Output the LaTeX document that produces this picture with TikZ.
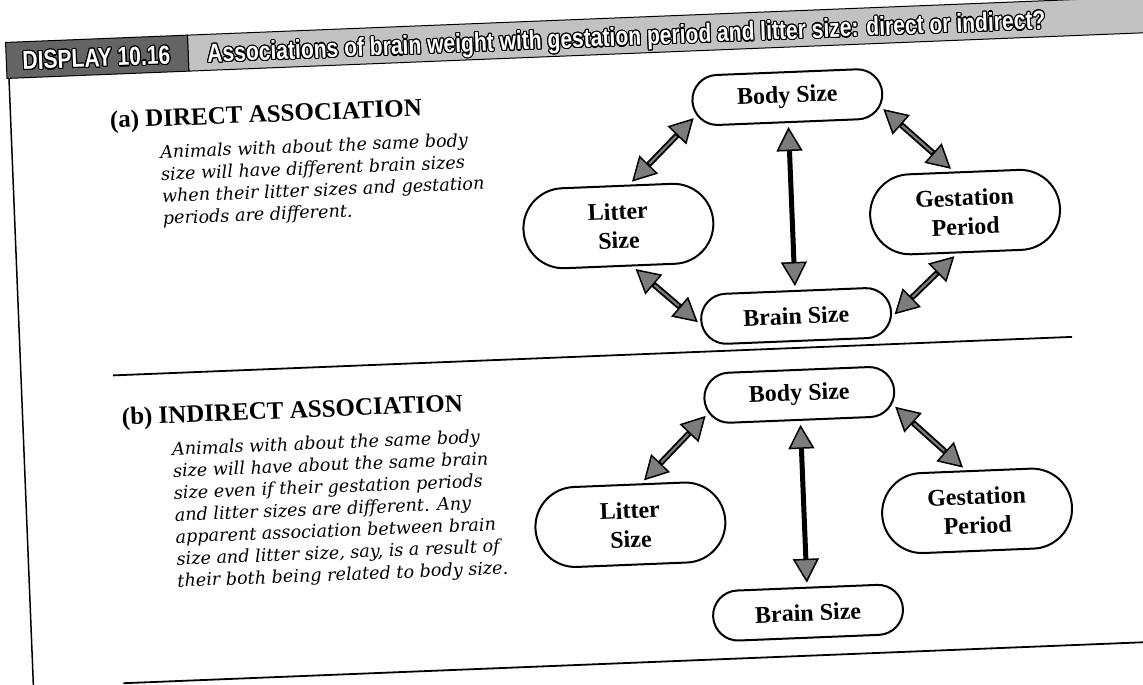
\documentclass[tikz,border=0pt]{standalone}
\usepackage{fontspec}
\setmainfont{Liberation Serif}
\newfontfamily\itfont{DejaVu Serif}
\newfontfamily\hdfont[FakeStretch=0.81]{Liberation Sans}
\usepackage{contour}
\contourlength{1.1pt}
\usetikzlibrary{shapes.misc,arrows.meta}
\definecolor{darkband}{HTML}{646464}
\definecolor{lightband}{HTML}{C2C2C2}
\definecolor{tipgray}{HTML}{7C7C7C}
\tikzset{linktip/.tip={Triangle[length=24pt,width=26pt,fill=tipgray,line width=1.5pt]}}
\begin{document}
\begin{tikzpicture}[x=1pt,y=-1pt,
  sbox/.style={draw, line width=2pt, rounded rectangle, minimum width=190pt, minimum height=50pt, inner sep=0pt, align=center, font=\fontsize{24}{29}\selectfont\bfseries},
  tbox/.style={sbox, minimum height=80pt},
  link/.style={line width=6pt, draw=black, shorten <=4pt, shorten >=4pt, linktip-linktip},
  vlink/.style={link, line width=5pt},
  core/.style={line width=2.2pt, draw=tipgray, shorten <=29pt, shorten >=29pt},
  head/.style={anchor=base west, inner sep=0pt, font=\fontsize{25}{30}\selectfont\bfseries},
  para/.style={anchor=north west, inner sep=0pt, align=left, font=\itfont\itshape\fontsize{17.6}{22}\selectfont},
  rulel/.style={line width=1.8pt},
  bandtext/.style={anchor=base west, inner sep=0pt, text=white, font=\hdfont\bfseries\fontsize{26}{30}\selectfont}
]
\fill[white] (0,0) rectangle (1143,685);
\clip (0,0) rectangle (1143,685);
\begin{scope}[rotate around={2.3:(571,342)}, transform shape]
  % header band
  \path[fill=lightband, draw=black, line width=1pt] (200,20) rectangle (1320,56);
  \path[fill=darkband, draw=black, line width=1pt] (18,20) rectangle (200,56);
  \node[bandtext] (disp) at (34,48) {\contour{black}{DISPLAY 10.16}};
  \node[bandtext] (title) at (219,48) {\contour{black}{Associations of brain weight with gestation period and litter size: direct or indirect?}};
  % frame rules
  \draw[line width=1.5pt] (20,56) -- (20,720);
  \draw[rulel] (112,357) -- (1072,357);
  \draw[rulel] (110,665) -- (1320,665);
  % section (a)
  \node[head] (headA) at (119,110) {(a) DIRECT ASSOCIATION};
  \node[para] (textA) at (168,128.6) {Animals with about the same body\\size will have different brain sizes\\when their litter sizes and gestation\\periods are different.};
  \node[sbox] (bodyA) at (797,106) {Body Size};
  \node[tbox] (littA) at (623,228) {Litter\\Size};
  \node[tbox] (gestA) at (970,228) {Gestation\\Period};
  \node[sbox] (brainA) at (797,325) {Brain Size};
  \draw[link] (littA.73) -- (bodyA.189);
  \draw[core] (littA.73) -- (bodyA.189);
  \draw[vlink] (bodyA.south) -- (brainA.north);
  \draw[link] (bodyA.352) -- (gestA.103);
  \draw[core] (bodyA.352) -- (gestA.103);
  \draw[link] (gestA.257) -- (brainA.357);
  \draw[core] (gestA.257) -- (brainA.357);
  \draw[link] (littA.287) -- (brainA.183);
  \draw[core] (littA.287) -- (brainA.183);
  % section (b)
  \node[head] (headB) at (119,407) {(b) INDIRECT ASSOCIATION};
  \node[para] (textB) at (168,425.6) {Animals with about the same body\\size will have about the same brain\\size even if their gestation periods\\and litter sizes are different. Any\\apparent association between brain\\size and litter size, say, is a result of\\their both being related to body size.};
  \node[sbox] (bodyB) at (797,404) {Body Size};
  \node[tbox] (littB) at (623,527) {Litter\\Size};
  \node[tbox] (gestB) at (970,527) {Gestation\\Period};
  \node[sbox] (brainB) at (797,622) {Brain Size};
  \draw[link] (littB.73) -- (bodyB.189);
  \draw[core] (littB.73) -- (bodyB.189);
  \draw[vlink] (bodyB.south) -- (brainB.north);
  \draw[link] (bodyB.352) -- (gestB.103);
  \draw[core] (bodyB.352) -- (gestB.103);
\end{scope}
\end{tikzpicture}
\end{document}
